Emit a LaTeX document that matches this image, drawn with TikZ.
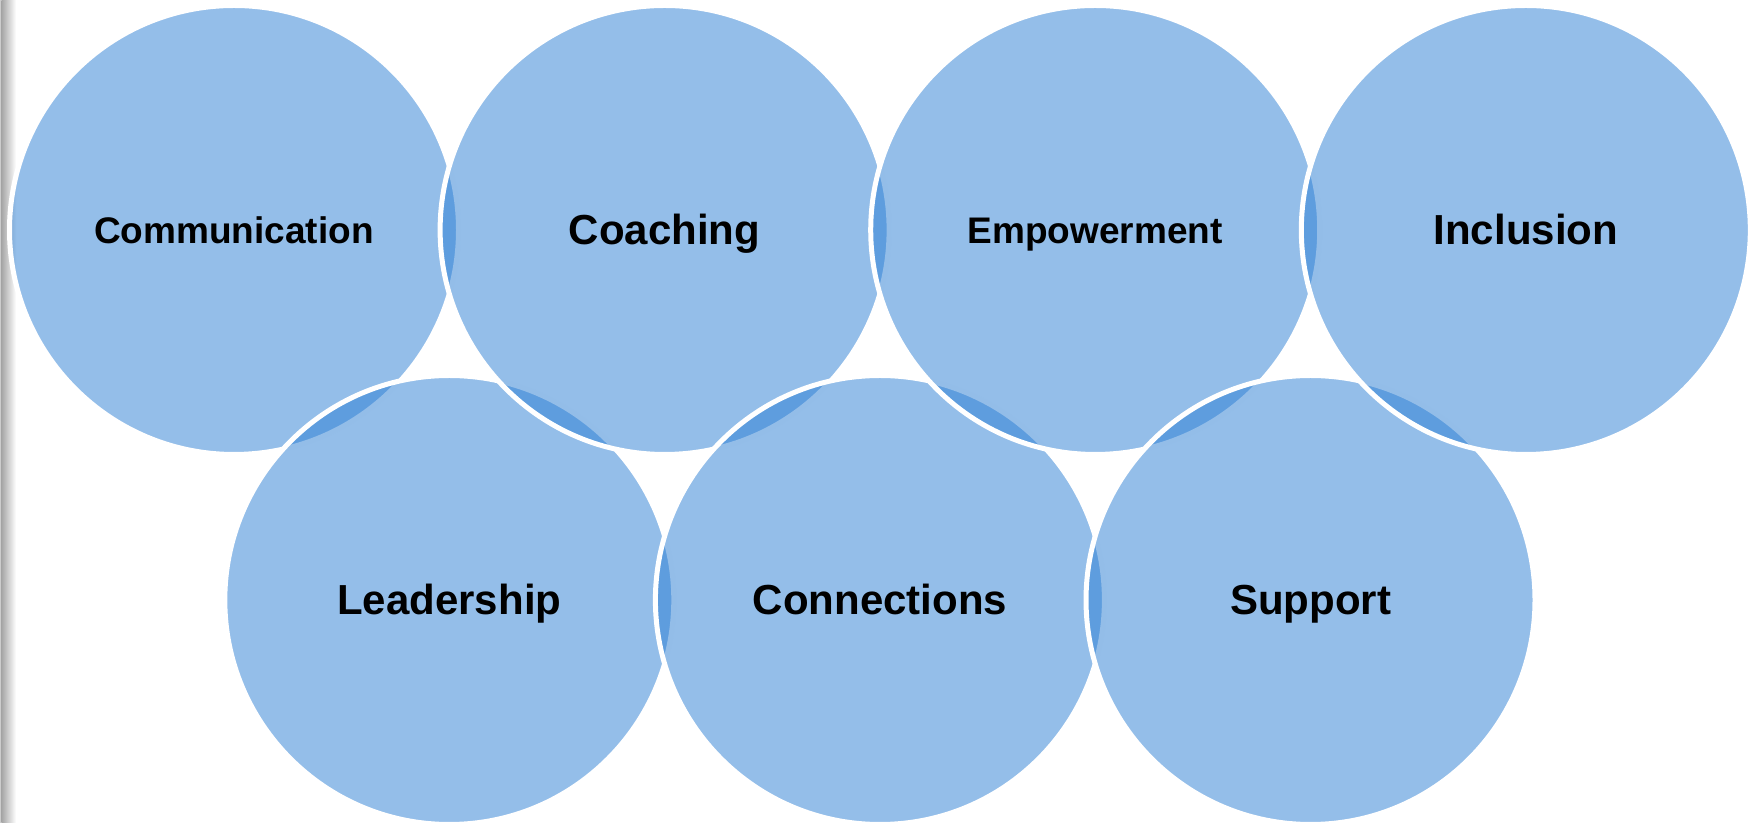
\documentclass[tikz,border=0pt]{standalone}
\usepackage{fontspec}
\setmainfont{Liberation Sans}
\definecolor{bubblefill}{RGB}{41,125,211}

\begin{document}
\begin{tikzpicture}[x=0.5pt, y=0.5pt,
  bubble/.style={circle, minimum size=224.5pt, inner sep=0pt,
    fill=bubblefill, fill opacity=0.5, text opacity=1,
    draw=white, line width=2.5pt,
    font=\bfseries\fontsize{21}{25}\selectfont,
    text height=15pt, text depth=0pt},
  smallbubble/.style={bubble,
    font=\bfseries\fontsize{18.5}{22}\selectfont, text height=13.2pt}]
  \useasboundingbox (0,0) rectangle (1748,823);
  % shadow strip down the left edge
  \fill[gray!40] (0,0) rectangle (1.5,823);
  \shade[left color=gray!70, right color=white] (1.5,0) rectangle (16,823);
  % circles, top and bottom row in turn, so each white rim lies over the last
  \node[smallbubble] (comm) at (234,593) {Communication};
  \node[bubble] (lead) at (449.3,223) {Leadership};
  \node[bubble] (coach) at (664.6,593) {Coaching};
  \node[bubble] (conn) at (879.9,223) {Connections};
  \node[smallbubble] (empow) at (1095.2,593) {Empowerment};
  \node[bubble] (supp) at (1310.5,223) {Support};
  \node[bubble] (incl) at (1525.8,593) {Inclusion};
\end{tikzpicture}
\end{document}
